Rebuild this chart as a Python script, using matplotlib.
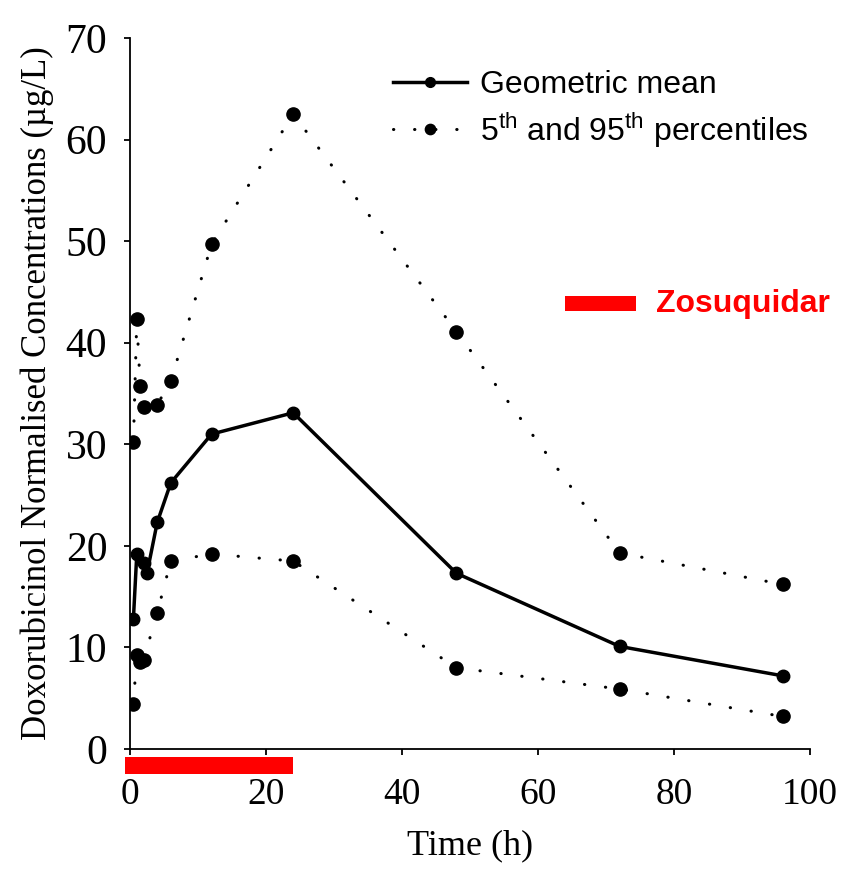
import numpy as np
import matplotlib
matplotlib.use("Agg")
import matplotlib.pyplot as plt
from matplotlib.patches import Rectangle

# data
t_mean = [0.5, 1, 2, 2.5, 4, 6, 12, 24, 48, 72, 96]
geo_mean = [12.8, 19.2, 18.3, 17.3, 22.3, 26.2, 31.0, 33.1, 17.3, 10.1, 7.2]

t_pct = [0.5, 1, 1.5, 2, 4, 6, 12, 24, 48, 72, 96]
p95 = [30.2, 42.3, 35.7, 33.7, 33.9, 36.2, 49.7, 62.5, 41.1, 19.3, 16.2]
p5 = [4.4, 9.3, 8.6, 8.8, 13.4, 18.5, 19.2, 18.5, 8.0, 5.9, 3.2]

zosu_start, zosu_end = -0.7, 24

plt.rcParams['mathtext.fontset'] = 'custom'
plt.rcParams['mathtext.rm'] = 'Liberation Sans'

fig = plt.figure(figsize=(8.53, 8.89), dpi=100)
ax = fig.add_axes([0.1524, 0.1575, 0.7972, 0.7998])

dot = (0, (0.1, 6.8))
ax.plot(t_mean, geo_mean, '-o', color='black', lw=2.5, ms=9,
        label='Geometric mean')
ax.plot(t_pct, p95, marker='o', linestyle=dot, color='black', lw=2.2, ms=9.5,
        dash_capstyle='round', label=r'5$^{\mathrm{th}}$ and 95$^{\mathrm{th}}$ percentiles')
ax.plot(t_pct, p5, marker='o', linestyle=dot, color='black', lw=2.2, ms=9.5,
        dash_capstyle='round')

# zosuquidar infusion bar under the axis
ax.add_patch(Rectangle((zosu_start, -2.5), zosu_end - zosu_start, 1.7,
                       color='red', clip_on=False, lw=0))
ax.add_patch(Rectangle((64, 43.1), 10.4, 1.5, color='red', lw=0))
ax.text(77.3, 43.85, 'Zosuquidar', color='red', fontsize=23, fontweight='bold',
        family='Liberation Sans', va='center', ha='left')

ax.set_xlim(0, 100)
ax.set_ylim(0, 70)
ax.set_xticks(np.arange(0, 101, 20))
ax.set_yticks(np.arange(0, 71, 10))
for s in ['top', 'right']:
    ax.spines[s].set_visible(False)
for s in ['left', 'bottom']:
    ax.spines[s].set_linewidth(1.3)
ax.tick_params(direction='out', length=4.3, width=1.3)
ax.tick_params(axis='x', labelsize=27, pad=16)
ax.tick_params(axis='y', labelsize=30, pad=12)
for lab in ax.get_xticklabels() + ax.get_yticklabels():
    lab.set_family('Liberation Serif')

ax.set_xlabel('Time (h)', family='Liberation Serif', fontsize=26, labelpad=13)
ax.set_ylabel('Doxorubicinol Normalised Concentrations (\u00b5g/L)',
              family='Liberation Serif', fontsize=25, labelpad=8)

leg = ax.legend(loc='upper left', bbox_to_anchor=(0.345, 0.995), frameon=False,
                prop={'family': 'Liberation Sans', 'size': 23},
                handlelength=2.3, handletextpad=0.4, labelspacing=0.3,
                markerscale=0.78)

fig.savefig('out.png', dpi=100)
